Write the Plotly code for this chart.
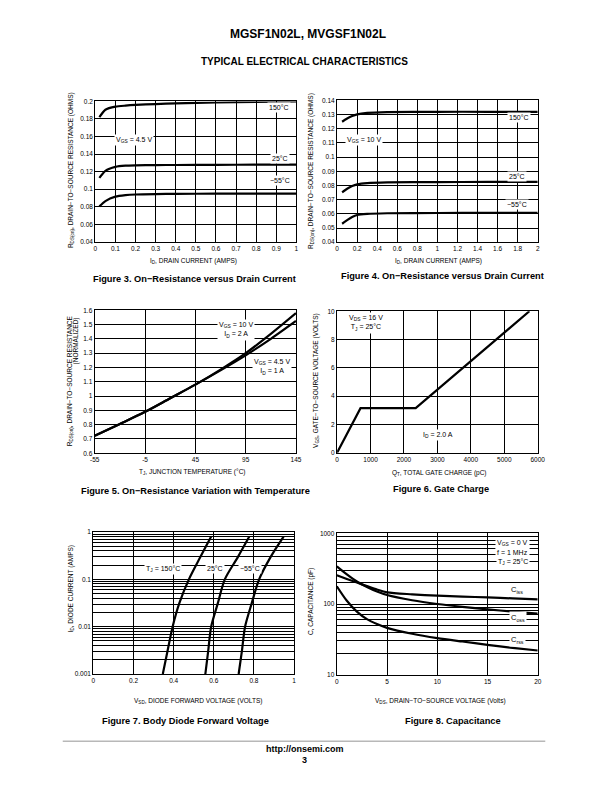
import plotly.graph_objects as go

W, H = 612, 792
FONT = "Liberation Sans, Arial, Helvetica, sans-serif"
BFONT = "Liberation Sans, Arial, Helvetica, sans-serif"
TS = 6.5   # small text size (ticks, axis titles)
LS = 7     # in-plot label size

# ---------------- data ----------------
# Figure 3: RDS(on) vs ID, VGS = 4.5 V
f3_id = [0.02, 0.05, 0.1, 0.15, 0.2, 0.3, 0.4, 0.6, 0.8, 1.0]
f3_r150 = [0.182, 0.1905, 0.1940, 0.1952, 0.1960, 0.1970, 0.1978, 0.1988, 0.1995, 0.2000]
f3_r25 = [0.113, 0.1210, 0.1255, 0.1268, 0.1272, 0.1275, 0.1276, 0.1278, 0.1279, 0.1280]
f3_rm55 = [0.0805, 0.0865, 0.0915, 0.0932, 0.0940, 0.0945, 0.0947, 0.0949, 0.0950, 0.0950]

# Figure 4: RDS(on) vs ID, VGS = 10 V
f4_id = [0.05, 0.1, 0.15, 0.2, 0.3, 0.5, 1.0, 1.5, 2.0]
f4_r150 = [0.1250, 0.1272, 0.1290, 0.1302, 0.1312, 0.1318, 0.1320, 0.1320, 0.1320]
f4_r25 = [0.0752, 0.0777, 0.0796, 0.0808, 0.0817, 0.0822, 0.0824, 0.0825, 0.0826]
f4_rm55 = [0.0530, 0.0556, 0.0578, 0.0592, 0.0600, 0.0604, 0.0606, 0.0607, 0.0607]

# Figure 5: normalized RDS(on) vs TJ
f5_t = [-55, -30, -5, 20, 45, 70, 95, 120, 145]
f5_r10v = [0.722, 0.805, 0.890, 0.985, 1.080, 1.185, 1.300, 1.435, 1.580]
f5_r45v = [0.722, 0.805, 0.890, 0.985, 1.080, 1.180, 1.285, 1.400, 1.525]

# Figure 6: gate charge
f6_q = [0, 700, 2350, 5750]
f6_v = [0, 3.15, 3.15, 10]

# Figure 7: body diode forward voltage
f7_i = [0.001, 0.003, 0.01, 0.031, 0.1, 0.295, 0.8]
f7_v150 = [0.346, 0.369, 0.395, 0.428, 0.476, 0.533, 0.587]
f7_v25 = [0.558, 0.572, 0.587, 0.620, 0.655, 0.720, 0.777]
f7_vm55 = [0.724, 0.740, 0.756, 0.789, 0.826, 0.883, 0.948]

# Figure 8: capacitance
f8_v = [0, 1, 2, 3, 4, 5, 7.5, 10, 12.5, 15, 17.5, 20]
f8_ciss = [255, 226, 201, 179, 160, 146, 137, 131, 127, 124, 120, 116]
f8_coss = [340, 262, 208, 174, 150, 134, 113, 100, 91, 84, 78, 73]
f8_crss = [178, 111, 78, 61, 52, 46, 38, 33, 29.5, 26.5, 24, 22]

# tick labels
f3_xt = [0, 0.1, 0.2, 0.3, 0.4, 0.5, 0.6, 0.7, 0.8, 0.9, 1]
f3_yt = [0.04, 0.06, 0.08, 0.1, 0.12, 0.14, 0.16, 0.18, 0.2]
f4_xt = [0, 0.2, 0.4, 0.6, 0.8, 1, 1.2, 1.4, 1.6, 1.8, 2]
f4_yt = [0.04, 0.05, 0.06, 0.07, 0.08, 0.09, 0.1, 0.11, 0.12, 0.13, 0.14]
f5_xt = [-55, -5, 45, 95, 145]
f5_yt = [0.6, 0.7, 0.8, 0.9, 1, 1.1, 1.2, 1.3, 1.4, 1.5, 1.6]
f6_xt = [0, 1000, 2000, 3000, 4000, 5000, 6000]
f6_yt = [0, 2, 4, 6, 8, 10]
f7_xt = [0, 0.2, 0.4, 0.6, 0.8, 1]
f7_yt = [0.001, 0.01, 0.1, 1]
f7_ytxt = ["0.001", "0.01", "0.1", "1"]
f8_xt = [0, 5, 10, 15, 20]
f8_yt = [10, 100, 1000]
f8_ytxt = ["10", "100", "1000"]


def fmt(v):
    return ("%g" % v)


def px_x(p):
    return p / W


def px_y(p):
    return 1 - p / H


fig = go.Figure()

# panel pixel boxes (left, right, top, bottom)
boxes = {
    1: (92.3, 297.7, 98.3, 240.0),
    2: (339.3, 544.3, 97.3, 240.3),
    3: (91.7, 297.3, 309.0, 453.3),
    4: (339.3, 544.3, 310.0, 452.7),
    5: (90.3, 295.3, 532.7, 676.0),
    6: (339.0, 544.3, 534.0, 676.7),
}


def axes(n, xr, xt, yr, yt, ytxt=None, ylog=False, yminor=None):
    l, r, t, b = boxes[n]
    sfx = "" if n == 1 else str(n)
    common = dict(showline=True, linecolor="black", linewidth=1.3, mirror=True,
                  showgrid=True, gridcolor="black", gridwidth=1, zeroline=False,
                  ticks="", tickfont=dict(family=FONT, size=TS, color="black"))
    xa = dict(common, domain=[px_x(l), px_x(r)], range=xr, tickmode="array",
              tickvals=xt, ticktext=[fmt(v) for v in xt], anchor="y" + sfx)
    ya = dict(common, domain=[px_y(b), px_y(t)], range=yr, tickmode="array",
              tickvals=yt, ticktext=ytxt if ytxt else [fmt(v) for v in yt],
              anchor="x" + sfx)
    if ylog:
        ya["type"] = "log"
        ya["minor"] = dict(tickmode="array", tickvals=yminor, showgrid=True,
                           gridcolor="black", gridwidth=1, ticks="")
    fig.layout["xaxis" + sfx] = xa
    fig.layout["yaxis" + sfx] = ya


axes(1, [0, 1], f3_xt, [0.04, 0.2], f3_yt)
axes(2, [0, 2], f4_xt, [0.04, 0.14], f4_yt)
axes(3, [-55, 145], f5_xt, [0.6, 1.6], f5_yt)
axes(4, [0, 6000], f6_xt, [0, 10], f6_yt)
axes(5, [0, 1], f7_xt, [-3, 0], f7_yt, f7_ytxt, ylog=True,
     yminor=[k * 10 ** e for e in (-3, -2, -1) for k in range(2, 10)])
axes(6, [0, 20], f8_xt, [1, 3], f8_yt, f8_ytxt, ylog=True,
     yminor=[k * 10 ** e for e in (1, 2) for k in range(2, 10)])

LN = dict(color="black", width=2.2)


def add(n, x, y, shape="spline", smooth=0.8):
    sfx = "" if n == 1 else str(n)
    line = dict(LN, shape=shape)
    if shape == "spline":
        line["smoothing"] = smooth
    fig.add_trace(go.Scatter(x=x, y=y, mode="lines", line=line, showlegend=False,
                             hoverinfo="skip", xaxis="x" + sfx, yaxis="y" + sfx))


for r in (f3_r150, f3_r25, f3_rm55):
    add(1, f3_id, r, smooth=0.6)
for r in (f4_r150, f4_r25, f4_rm55):
    add(2, f4_id, r, smooth=0.6)
add(3, f5_t, f5_r10v)
add(3, f5_t, f5_r45v)
add(4, f6_q, f6_v, shape="linear")
for v in (f7_v150, f7_v25, f7_vm55):
    add(5, v, f7_i)
for c in (f8_ciss, f8_coss, f8_crss):
    add(6, f8_v, c)

ann = []


def text(x, y, s, size=TS, family=FONT, xanchor="center", angle=0, bg=None, bold=False):
    if bold:
        s = "<b>" + s + "</b>"
    d = dict(x=px_x(x), y=px_y(y), xref="paper", yref="paper", text=s, showarrow=False,
             xanchor=xanchor, yanchor="middle", textangle=angle,
             font=dict(family=family, size=size, color="black"))
    if bg:
        d["bgcolor"] = bg
        d["borderpad"] = 1
    ann.append(d)


CS = 9.25  # caption size

# header/footer
text(310, 30.7, "MGSF1N02L, MVGSF1N02L", size=12, family=BFONT, bold=True)
text(306, 57.7, "TYPICAL ELECTRICAL CHARACTERISTICS", size=10, family=BFONT, bold=True)
text(306, 752, "http://onsemi.com", size=9, family=BFONT, bold=True)
text(306, 763, "3", size=9, family=BFONT, bold=True)

# captions
text(193.3, 277, "Figure 3. On\u2212Resistance versus Drain Current", size=CS, family=BFONT, bold=True)
text(447.5, 274, "Figure 4. On\u2212Resistance versus Drain Current", size=CS, family=BFONT, bold=True)
text(195, 491, "Figure 5. On\u2212Resistance Variation with Temperature", size=CS, family=BFONT, bold=True)
text(445.7, 489, "Figure 6. Gate Charge", size=CS, family=BFONT, bold=True)
text(184.7, 723, "Figure 7. Body Diode Forward Voltage", size=CS, family=BFONT, bold=True)
text(458, 723, "Figure 8. Capacitance", size=CS, family=BFONT, bold=True)

# x axis titles
text(192.7, 259, "I<sub>D</sub>, DRAIN CURRENT (AMPS)")
text(442.5, 259, "I<sub>D</sub>, DRAIN CURRENT (AMPS)")
text(191.7, 472, "T<sub>J</sub>, JUNCTION TEMPERATURE (\u00b0C)")
text(444, 473, "Q<sub>T</sub>, TOTAL GATE CHARGE (pC)")
text(196.7, 703, "V<sub>SD</sub>, DIODE FORWARD VOLTAGE (VOLTS)")
text(445, 703, "V<sub>DS</sub>, DRAIN\u2212TO\u2212SOURCE VOLTAGE (Volts)")

# y axis titles
text(67, 168, "R<sub>DS(on)</sub>, DRAIN\u2212TO\u2212SOURCE RESISTANCE (OHMS)", angle=-90)
text(312, 168, "R<sub>DS(on)</sub>, DRAIN\u2212TO\u2212SOURCE RESISTANCE (OHMS)", angle=-90)
text(66, 380, "R<sub>DS(on)</sub>, DRAIN\u2212TO\u2212SOURCE RESISTANCE", angle=-90)
text(73, 340, "(NORMALIZED)", angle=-90)
text(317, 380, "V<sub>GS</sub>, GATE\u2212TO\u2212SOURCE VOLTAGE (VOLTS)", angle=-90)
text(67, 590, "I<sub>D</sub>, DIODE CURRENT (AMPS)", angle=-90)
text(312, 603, "C, CAPACITANCE (pF)", angle=-90)

# in-plot labels (white boxes)
WB = "white"
text(280, 104, "150\u00b0C", size=LS, bg=WB)
text(132, 137, "V<sub>GS</sub> = 4.5 V", size=LS, bg=WB)
text(281, 156, "25\u00b0C", size=LS, bg=WB)
text(281, 178, "\u221255\u00b0C", size=LS, bg=WB)

text(525, 115, "150\u00b0C", size=LS, bg=WB)
text(367, 137, "V<sub>GS</sub> = 10 V", size=LS, bg=WB)
text(523, 174, "25\u00b0C", size=LS, bg=WB)
text(523, 202, "\u221255\u00b0C", size=LS, bg=WB)

text(217, 329, "V<sub>GS</sub> = 10 V<br>I<sub>D</sub> = 2 A", size=LS, xanchor="left", bg=WB)
text(252, 366, "V<sub>GS</sub> = 4.5 V<br>I<sub>D</sub> = 1 A", size=LS, xanchor="left", bg=WB)

text(349, 322, "V<sub>DS</sub> = 16 V<br>T<sub>J</sub> = 25\u00b0C", size=LS, xanchor="left", bg=WB)
text(425, 435, "I<sub>D</sub> = 2.0 A", size=LS, xanchor="left", bg=WB)

text(161, 570, "T<sub>J</sub> = 150\u00b0C", size=LS, bg=WB)
text(214.5, 570, "25\u00b0C", size=LS, bg=WB)
text(250, 570, "\u221255\u00b0C", size=LS, bg=WB)

text(519, 544, "V<sub>GS</sub> = 0 V", size=LS, bg=WB)
text(519, 553.5, "f = 1 MHz", size=LS, bg=WB)
text(519, 563, "T<sub>J</sub> = 25\u00b0C", size=LS, bg=WB)
text(523, 591, "C<sub>iss</sub>", size=7.5, bg=WB)
text(524, 619, "C<sub>oss</sub>", size=7.5, bg=WB)
text(524, 642, "C<sub>rss</sub>", size=7.5, bg=WB)

fig.update_layout(
    width=W, height=H, margin=dict(l=0, r=0, t=0, b=0),
    paper_bgcolor="white", plot_bgcolor="white",
    annotations=ann,
    shapes=[dict(type="line", xref="paper", yref="paper", x0=px_x(59), x1=px_x(552),
                 y0=px_y(743.7), y1=px_y(743.7), line=dict(color="#b8b8b8", width=1.5))],
)

fig.write_html("out.html", config={"displayModeBar": False},
               post_script="document.body.style.margin='0';document.body.style.overflow='hidden';")
